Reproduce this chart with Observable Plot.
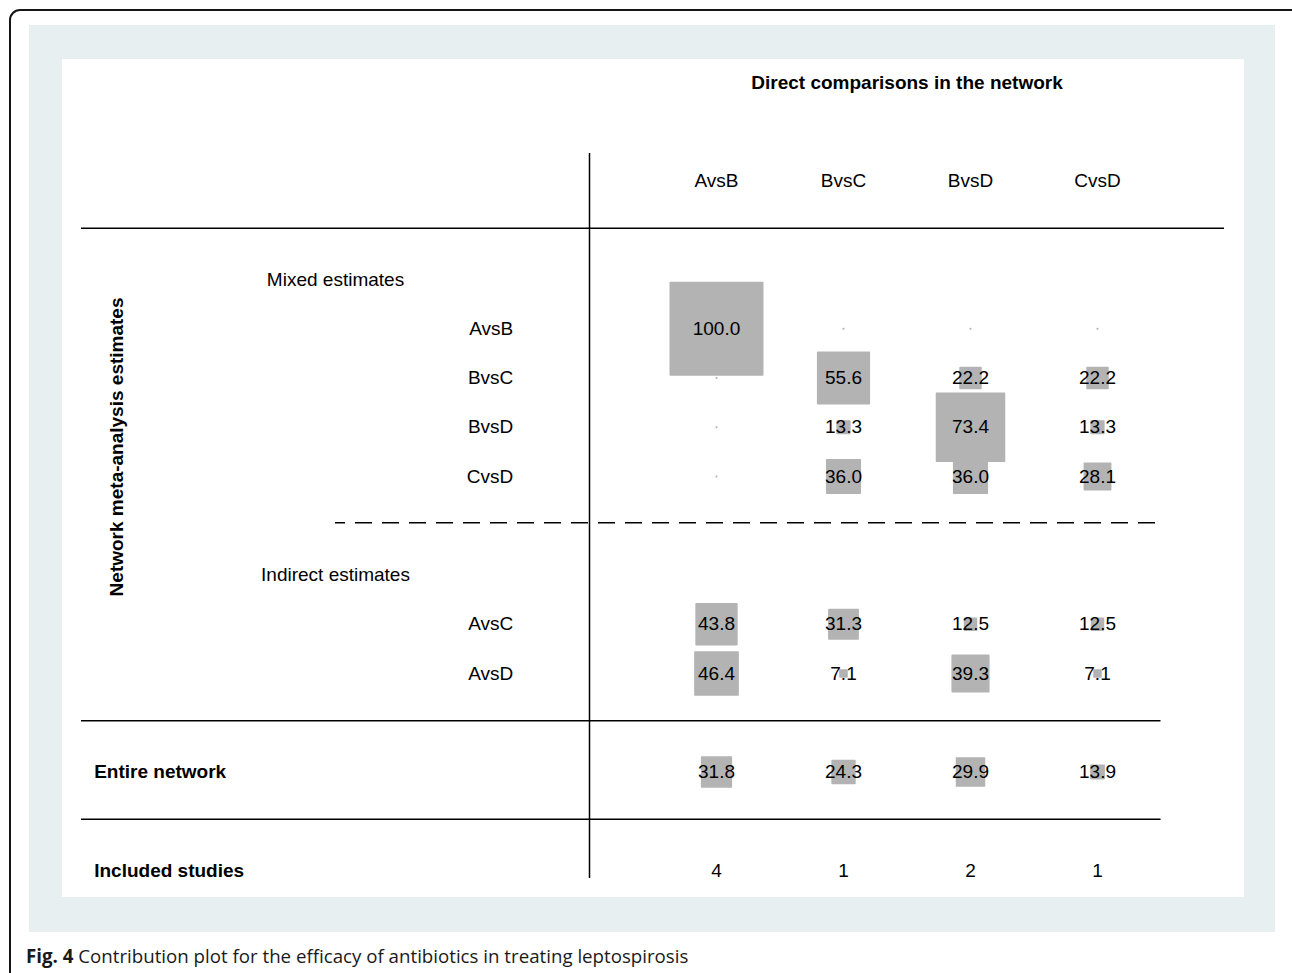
<!DOCTYPE html>
<html>
<head>
<meta charset="utf-8">
<script src="https://cdn.jsdelivr.net/npm/d3@7"></script>
<script src="https://cdn.jsdelivr.net/npm/@observablehq/plot@0.6"></script>
<style>
  html, body { margin: 0; padding: 0; background: #ffffff; width: 1292px; height: 973px; overflow: hidden; position: relative; }
  #frame { position: absolute; left: 9px; top: 9px; width: 1300px; height: 1000px; border: 2px solid #151515; border-radius: 11px; box-sizing: border-box; }
  #panel { position: absolute; left: 29px; top: 25px; width: 1246px; height: 907px; background: #e7eff1; }
  #white { position: absolute; left: 33px; top: 34px; width: 1182px; height: 838px; background: #ffffff; }
  #white svg { display: block; }
  #caption { position: absolute; left: 26px; top: 943px; font-family: "Open Sans", "Noto Sans", sans-serif; font-size: 18.7px; color: #1a1a1a; white-space: nowrap; line-height: 26px; }
  #caption b { font-weight: 700; }
</style>
</head>
<body>
<div id="frame"></div>
<div id="panel"><div id="white"></div></div>
<div id="caption"><b>Fig. 4</b> Contribution plot for the efficacy of antibiotics in treating leptospirosis</div>
<script>
// ---- data ----
const title = "Direct comparisons in the network";
const yTitle = "Network meta-analysis estimates";
const columns = ["AvsB", "BvsC", "BvsD", "CvsD"];
const mixedLabel = "Mixed estimates";
const indirectLabel = "Indirect estimates";
const mixedRows = ["AvsB", "BvsC", "BvsD", "CvsD"];
const mixedValues = [
  [100.0, 0, 0, 0],
  [0, 55.6, 22.2, 22.2],
  [0, 13.3, 73.4, 13.3],
  [0, 36.0, 36.0, 28.1]
];
const indirectRows = ["AvsC", "AvsD"];
const indirectValues = [
  [43.8, 31.3, 12.5, 12.5],
  [46.4, 7.1, 39.3, 7.1]
];
const entireLabel = "Entire network";
const entireValues = [31.8, 24.3, 29.9, 13.9];
const studiesLabel = "Included studies";
const studiesValues = [4, 1, 2, 1];

// ---- row order of the table (top to bottom) ----
const rowOrder = [
  "title", "gap", "header", "rule-top",
  mixedLabel, ...mixedRows.map(r => "m:" + r),
  "rule-dash",
  indirectLabel, ...indirectRows.map(r => "i:" + r),
  "rule-mid", entireLabel, "rule-low", studiesLabel
];
const rowY = k => rowOrder.indexOf(k);
const colX = c => columns.indexOf(c) + 1;

const cells = [];
mixedRows.forEach((r, i) => columns.forEach((c, j) => cells.push({row: "m:" + r, col: c, value: mixedValues[i][j]})));
indirectRows.forEach((r, i) => columns.forEach((c, j) => cells.push({row: "i:" + r, col: c, value: indirectValues[i][j]})));
columns.forEach((c, j) => cells.push({row: entireLabel, col: c, value: entireValues[j]}));
const studies = columns.map((c, j) => ({row: studiesLabel, col: c, value: studiesValues[j]}));

const rowLabels = [
  ...mixedRows.map(r => ({key: "m:" + r, label: r})),
  ...indirectRows.map(r => ({key: "i:" + r, label: r}))
];

const FONT = "Liberation Sans, Arial, Helvetica, sans-serif";
const FS = 19;
const GREY = "#b3b3b3";
const RULE_SHIFT = 0.04; // rules sit slightly above the slot centre

const chart = Plot.plot({
  width: 1182,
  height: 838,
  margin: 0,
  style: {fontFamily: FONT, fontSize: FS + "px", color: "#000", background: "transparent"},
  x: {type: "linear", domain: [0, 4], range: [527, 1035], axis: null},
  y: {type: "linear", domain: [0, 16], range: [23, 811], axis: null},
  r: {type: "linear", domain: [0, 100], range: [0.28, 52.19]},
  marks: [
    // table rules
    Plot.ruleY([rowY("rule-top") - RULE_SHIFT], {x1: -4, x2: 5, stroke: "#000", strokeWidth: 1.5}),
    Plot.ruleY([rowY("rule-mid") - RULE_SHIFT, rowY("rule-low") - RULE_SHIFT], {x1: -4, x2: 4.5, stroke: "#000", strokeWidth: 1.5}),
    Plot.ruleY([rowY("rule-dash") - 0.06], {x1: -2, x2: 4.5, stroke: "#000", strokeWidth: 1.5, strokeDasharray: "17,10", strokeDashoffset: 7}),
    Plot.ruleX([0], {y1: 1.44, y2: 16.16, stroke: "#000", strokeWidth: 1.5}),
    // contribution squares
    Plot.dot(cells, {
      x: d => colX(d.col), y: d => rowY(d.row), r: "value",
      symbol: "square", fill: GREY, stroke: GREY, strokeWidth: 1.5, strokeLinejoin: "round"
    }),
    // values
    Plot.text(cells.filter(d => d.value > 0), {
      x: d => colX(d.col), y: d => rowY(d.row), text: d => d.value.toFixed(1),
      fill: "#000", fontSize: FS
    }),
    Plot.text(studies, {
      x: d => colX(d.col), y: d => rowY(d.row), text: d => String(d.value),
      fill: "#000", fontSize: FS
    }),
    // column headers
    Plot.text(columns, {x: d => colX(d), y: () => rowY("header"), text: d => d, fill: "#000", fontSize: FS}),
    // title
    Plot.text([title], {x: 2.5, y: () => rowY("title"), text: d => d, fontWeight: "bold", fill: "#000", fontSize: FS}),
    // section labels
    Plot.text([mixedLabel, indirectLabel], {x: -2, y: d => rowY(d), text: d => d, fill: "#000", fontSize: FS}),
    // row labels
    Plot.text(rowLabels, {x: -0.6, y: d => rowY(d.key), text: "label", textAnchor: "end", fill: "#000", fontSize: FS}),
    // bottom bold labels
    Plot.text([entireLabel, studiesLabel], {x: -3.9, y: d => rowY(d), text: d => d, textAnchor: "start", fontWeight: "bold", fill: "#000", fontSize: FS}),
    // vertical axis title
    Plot.text([yTitle], {x: -3.72, y: 7.4, text: d => d, rotate: -90, fontWeight: "bold", fill: "#000", fontSize: FS})
  ]
});
document.getElementById("white").appendChild(chart);
</script>
</body>
</html>
